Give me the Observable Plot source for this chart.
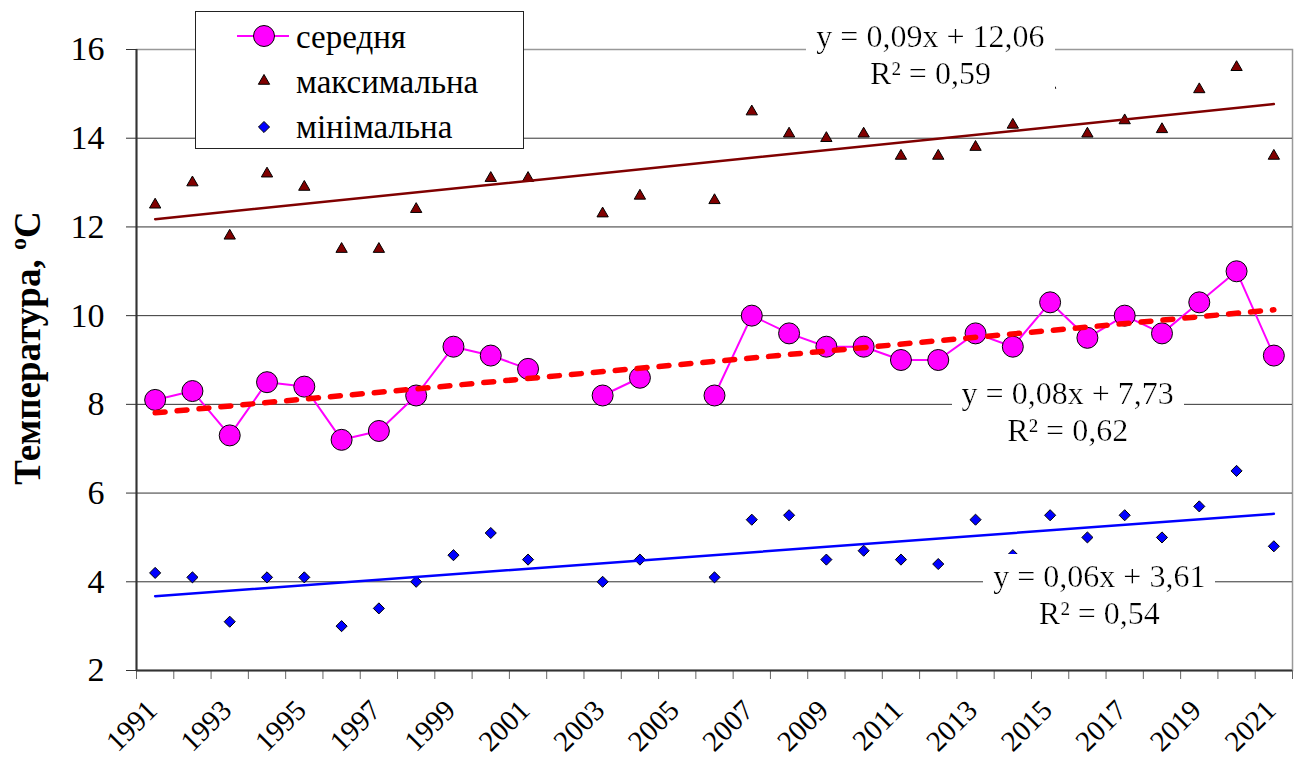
<!DOCTYPE html>
<html><head><meta charset="utf-8">
<script src="https://cdn.jsdelivr.net/npm/d3@7"></script>
<script src="https://cdn.jsdelivr.net/npm/@observablehq/plot@0.6"></script>
<style>
body{margin:0;background:#fff;}
#wrap{position:relative;width:1299px;height:758px;font-family:"Liberation Serif",serif;}
#wrap svg text{font-family:"Liberation Serif",serif;}
#legend{position:absolute;left:195px;top:11px;width:327px;height:136px;border:1px solid #222;background:#fff;}
#legend svg{display:block;}
</style></head><body><div id="wrap"></div>
<script>
// ---- data ----
const years = [1991,1992,1993,1994,1995,1996,1997,1998,1999,2000,2001,2002,2003,2004,2005,2006,2007,2008,2009,2010,2011,2012,2013,2014,2015,2016,2017,2018,2019,2020,2021];
const avgTemp = [8.1,8.3,7.3,8.5,8.4,7.2,7.4,8.2,9.3,9.1,8.8,null,8.2,8.6,null,8.2,10.0,9.6,9.3,9.3,9.0,9.0,9.6,9.3,10.3,9.5,10.0,9.6,10.3,11.0,9.1];
const maxTemp = [12.5,13.0,11.8,13.2,12.9,11.5,11.5,12.4,14.2,13.1,13.1,null,12.3,12.7,null,12.6,14.6,14.1,14.0,14.1,13.6,13.6,13.8,14.3,15.2,14.1,14.4,14.2,15.1,15.6,13.6];
const minTemp = [4.2,4.1,3.1,4.1,4.1,3.0,3.4,4.0,4.6,5.1,4.5,null,4.0,4.5,null,4.1,5.4,5.5,4.5,4.7,4.5,4.4,5.4,4.6,5.5,5.0,5.5,5.0,5.7,6.5,4.8];
const yTicks = [2,4,6,8,10,12,14,16];
const xTickLabels = [1991,1993,1995,1997,1999,2001,2003,2005,2007,2009,2011,2013,2015,2017,2019,2021];
const seriesNames = ["середня","максимальна","мінімальна"];
const trendTexts = ["y = 0,09x + 12,06\nR² = 0,59","y = 0,08x + 7,73\nR² = 0,62","y = 0,06x + 3,61\nR² = 0,54"];
const yTitle = "Температура, ";
const yTitleUnit = ["o","C"];

// ---- annotation anchors (data space) ----
const trendLabelYear = [2011.79, 2015.47, 2016.32];
const trendLabelValue = [15.91, 7.86, 3.73];

const rows = years.map((year, i) => ({year, avg: avgTemp[i], max: maxTemp[i], min: minTemp[i]}));
const defined = k => rows.filter(d => d[k] != null);
const trendLabels = trendTexts.map((text, i) => ({text, year: trendLabelYear[i], value: trendLabelValue[i]}));
const boundaries = d3.range(years[0] - 0.5, years[years.length - 1] + 1, 1);

const FONT = "Liberation Serif, serif";
const COL = {avg: "#ff00ff", max: "#800000", min: "#0000ff", avgTrend: "#ff0000"};
const R = {avg: 10.5, max: 4.2, min: 5};

const chart = Plot.plot({
  width: 1299, height: 758,
  marginLeft: 136, marginRight: 7, marginTop: 49, marginBottom: 88,
  style: "font-family: 'Liberation Serif', serif; background: white; color: #000; overflow: visible;",
  x: {domain: [years[0] - 0.5, years[years.length - 1] + 0.5]},
  y: {domain: [yTicks[0], yTicks[yTicks.length - 1]]},
  marks: [
    Plot.frame({stroke: "#999", strokeWidth: 1.5}),
    Plot.gridY(yTicks.filter(t => t > 2 && t < 16), {stroke: "#333", strokeOpacity: 1, strokeWidth: 1}),
    Plot.axisY(yTicks, {tickSize: 10, tickPadding: 22, fontSize: 34, label: null, stroke: "#333", fontFamily: FONT}),
    Plot.axisX(boundaries, {tickSize: 9, tickFormat: () => "", label: null, stroke: "#666"}),
    Plot.axisX(xTickLabels, {tickSize: 0, tickRotate: -45, fontSize: 29, tickPadding: 35, dx: -3, label: null, fontFamily: FONT, tickFormat: d => String(d)}),
    Plot.ruleX([years[0] - 0.5], {stroke: "#333", strokeWidth: 2}),
    Plot.ruleY([yTicks[0]], {stroke: "#333", strokeWidth: 2}),
    Plot.line(rows, {x: "year", y: "avg", stroke: COL.avg, strokeWidth: 2}),
    Plot.dot(rows, {x: "year", y: "avg", r: R.avg, fill: COL.avg, stroke: "#000", strokeWidth: 1}),
    Plot.dot(rows, {x: "year", y: "max", symbol: "triangle", r: R.max, fill: COL.max, stroke: "#000", strokeWidth: 1}),
    Plot.dot(rows, {x: "year", y: "min", symbol: "diamond2", r: R.min, fill: COL.min, stroke: "#000", strokeWidth: 1}),
    Plot.linearRegressionY(defined("max"), {x: "year", y: "max", stroke: COL.max, strokeWidth: 2.5, ci: 0}),
    Plot.linearRegressionY(defined("avg"), {x: "year", y: "avg", stroke: COL.avgTrend, strokeWidth: 5.5, strokeDasharray: "10,12", strokeLinecap: "round", ci: 0}),
    Plot.linearRegressionY(defined("min"), {x: "year", y: "min", stroke: COL.min, strokeWidth: 2.5, ci: 0}),
    Plot.text(trendLabels, {
      x: "year", y: "value", text: "text", fontSize: 32, lineHeight: 1.15, textAnchor: "middle", lineAnchor: "middle", fill: "#000", fontFamily: FONT,
      render(index, scales, values, dims, context, next) {
        const g = next(index, scales, values, dims, context);
        const s = d3.select(g);
        s.insert("defs", ":first-child").html(
          '<filter id="lblbg" x="-0.045" y="-0.05" width="1.09" height="1.1">' +
          '<feFlood flood-color="#ffffff" result="bg"/>' +
          '<feMerge><feMergeNode in="bg"/><feMergeNode in="SourceGraphic"/></feMerge></filter>');
        s.selectAll("text").attr("filter", "url(#lblbg)");
        return g;
      }
    }),
    Plot.text([yTitle], {
      frameAnchor: "left", rotate: -90, dx: -108, dy: -12, fontSize: 37, fontWeight: "bold", textAnchor: "middle", text: d => d, fill: "#000", fontFamily: FONT,
      render(index, scales, values, dims, context, next) {
        const g = next(index, scales, values, dims, context);
        const t = d3.select(g).select("text");
        t.append("tspan").attr("dy", -14).attr("font-size", 24).text(yTitleUnit[0]);
        t.append("tspan").attr("dy", 14).text(yTitleUnit[1]);
        return g;
      }
    })
  ]
});

d3.select(chart).selectAll("text").attr("font-family", FONT);
const wrap = d3.select("#wrap");
wrap.node().appendChild(chart);

// ---- legend ----
const legend = wrap.append("div").attr("id", "legend");
const ls = legend.append("svg").attr("width", 327).attr("height", 136);
const rowY = [24, 69, 115];
const baseY = [36, 81, 126];
const symX = 68;
ls.append("line").attr("x1", 41).attr("x2", 93).attr("y1", rowY[0]).attr("y2", rowY[0])
  .attr("stroke", COL.avg).attr("stroke-width", 2);
ls.append("circle").attr("cx", symX).attr("cy", rowY[0]).attr("r", R.avg)
  .attr("fill", COL.avg).attr("stroke", "#000");
ls.append("path").attr("transform", `translate(${symX},${rowY[1]})`)
  .attr("d", d3.symbol(d3.symbolTriangle, Math.PI * R.max * R.max)())
  .attr("fill", COL.max).attr("stroke", "#000");
ls.append("path").attr("transform", `translate(${symX},${rowY[2]})`)
  .attr("d", d3.symbol(d3.symbolDiamond2, Math.PI * R.min * R.min)())
  .attr("fill", COL.min).attr("stroke", "#000");
seriesNames.forEach((name, i) => {
  ls.append("text").attr("x", 100).attr("y", baseY[i]).attr("font-size", 33)
    .attr("font-family", FONT).attr("fill", "#000").text(name);
});
</script></body></html>
